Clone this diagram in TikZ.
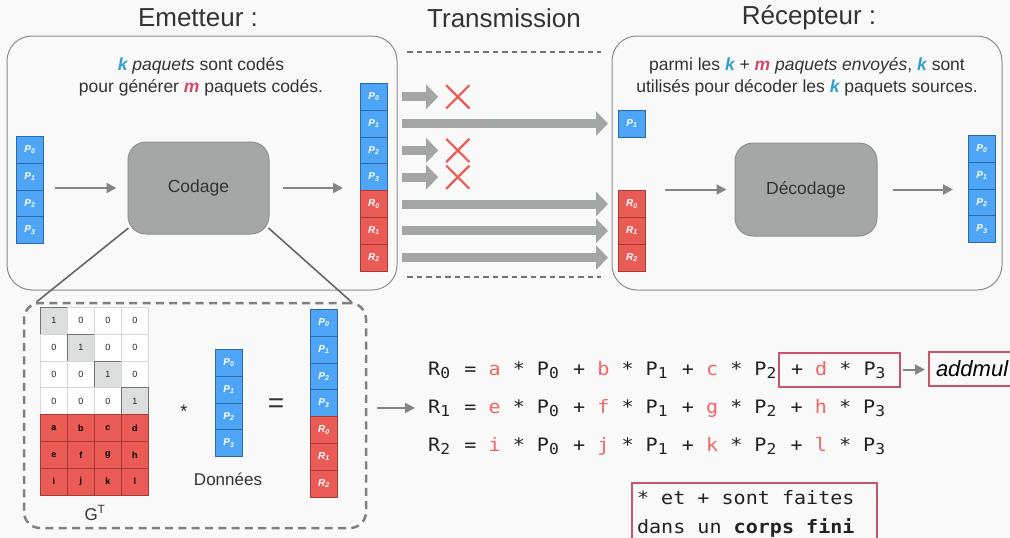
\documentclass[tikz,border=0pt]{standalone}
\usepackage{fontspec}
\setmainfont{Liberation Sans}
\newfontfamily\eqfont[FakeStretch=1.085]{DejaVu Sans Mono}
\usetikzlibrary{arrows.meta,shapes.misc,calc}

\definecolor{bg}{HTML}{F9F9F9}
\definecolor{frame}{HTML}{8C8C8C}
\definecolor{pblue}{HTML}{4EA5F5}
\definecolor{pblueedge}{HTML}{2C6AAE}
\definecolor{rred}{HTML}{EA5B56}
\definecolor{rrededge}{HTML}{A63B38}
\definecolor{boxgray}{HTML}{A5A7A7}
\definecolor{boxgrayedge}{HTML}{8E9090}
\definecolor{pipe}{HTML}{A4A6A6}
\definecolor{lossred}{HTML}{EE5A55}
\definecolor{kblue}{HTML}{2C9FD4}
\definecolor{mred}{HTML}{D24B68}
\definecolor{coef}{HTML}{F06664}
\definecolor{hilite}{HTML}{C9546C}
\definecolor{ink}{HTML}{222222}
\definecolor{soft}{HTML}{333333}
\definecolor{diag}{HTML}{DCDDDD}
\definecolor{gridline}{HTML}{D6D6D6}
\definecolor{linkgray}{HTML}{858585}

\newcommand\kk{\textcolor{kblue}{\bfseries\itshape k}}
\newcommand\mm{\textcolor{mred}{\bfseries\itshape m}}
\newcommand\co[1]{\textcolor{coef}{#1}}
% monospaced subscript digit occupying one character cell
\newcommand\idx[1]{\makebox[12.08pt][l]{\raisebox{-3pt}{\fontsize{15}{15}\selectfont#1}}}

% a column of packets: name, left x, top y, list of style/letter/index
\newcommand\pktstack[4]{%
  \foreach \kind/\lt/\ix [count=\n from 0] in {#4}{
    \node[\kind] (#1-\n) at ({#2},{#3+26.8*\n}) {\lt\textsubscript{\ix}};
  }}

\tikzset{
  pcell/.style={draw=pblueedge, fill=pblue, line width=0.8pt,
    minimum width=27pt, minimum height=26.8pt, inner sep=0pt, text=white,
    font=\fontsize{10}{10}\selectfont\bfseries\itshape, anchor=north west},
  rcell/.style={pcell, draw=rrededge, fill=rred},
  mcell/.style={draw=gridline, fill=white, line width=0.8pt,
    minimum width=27pt, minimum height=26.8pt, inner sep=0pt, text=ink,
    font=\fontsize{9}{9}\selectfont, anchor=north west},
  diagcell/.style={mcell, fill=diag, draw=black!55},
  coefcell/.style={mcell, fill=rred, draw=rrededge, text=black,
    font=\fontsize{9}{9}\selectfont\bfseries},
  panel/.style={draw=frame, line width=1pt, fill=bg, rounded corners=25pt,
    inner sep=0pt},
  procbox/.style={draw=boxgrayedge, fill=boxgray, line width=1pt,
    rounded corners=18pt, inner sep=0pt, text=soft,
    font=\fontsize{17.5}{17.5}\selectfont},
  heading/.style={text=soft, font=\fontsize{26}{26}\selectfont},
  para/.style={text=soft, align=center,
    font=\fontsize{17.5}{22}\selectfont},
  link/.style={draw=linkgray, line width=2pt,
    -{Triangle[length=10pt,width=10pt]}},
  pipearrow/.style={draw=pipe, line width=9pt,
    -{Triangle[length=12pt,width=24pt]}, shorten <=14pt},
  lost/.style={cross out, draw=lossred, line width=2.2pt,
    minimum size=21pt, inner sep=0pt},
  channel/.style={draw=black!55, line width=2pt, dash pattern=on 5.5pt off 4pt},
  zoomline/.style={draw=black!60, line width=1.6pt},
  gframe/.style={draw=black!50, line width=2.5pt, dash pattern=on 8pt off 5.3pt,
    rounded corners=16pt, inner sep=0pt},
  eqn/.style={anchor=base west, inner sep=0pt, text=ink,
    font=\eqfont\fontsize{18.5}{18.5}\selectfont},
  hl/.style={draw=hilite, line width=2pt},
}

\begin{document}
\begin{tikzpicture}[x=1pt, y=-1pt]
\fill[bg] (0,0) rectangle (1010,538);
\useasboundingbox (0,0) rectangle (1010,538);

% headings
\node[heading] (hE) at (198,18) {Emetteur :};
\node[heading] (hT) at (504,18) {Transmission};
\node[heading] (hR) at (809,18) {Récepteur :};

% ---------------- sender ----------------
\node[panel, minimum width=390pt, minimum height=254pt] (emet) at (202,163) {};
\node[para] (etxt) at (201,77)
  {\kk{} \textit{paquets} sont codés\\pour générer \mm{} paquets codés.};

% zoom lines from the encoder to the detail frame
\node[gframe, minimum width=342pt, minimum height=225pt] (gbox) at (195,415.5) {};
\draw[zoomline] ($(gbox.north west)+(14,0)$) -- ($(128.5,228)$);
\draw[zoomline] ($(gbox.north east)+(-16,0)$) -- ($(268.5,228)$);

\node[procbox, minimum width=141pt, minimum height=92pt] (codage) at (198.5,188) {Codage};

\pktstack{src}{16}{136}{pcell/P/0,pcell/P/1,pcell/P/2,pcell/P/3}
\pktstack{enc}{360}{83}{pcell/P/0,pcell/P/1,pcell/P/2,pcell/P/3,rcell/R/0,rcell/R/1,rcell/R/2}

\draw[link, shorten <=11pt, shorten >=11pt] (codage.west -| src-1.east) -- (codage.west);
\draw[link, shorten <=13pt, shorten >=17pt] (codage.east) -- (codage.east -| enc-0.west);

% ---------------- channel ----------------
\draw[channel] (407,52) -- (601,52);
\draw[channel] (407,277) -- (601,277);

\node[lost] (x0) at ($(enc-0.east)+(70,0)$) {};
\node[lost] (x2) at ($(enc-2.east)+(70,0)$) {};
\node[lost] (x3) at ($(enc-3.east)+(70,0)$) {};

% ---------------- receiver ----------------
\node[panel, minimum width=390pt, minimum height=254pt] (recp) at (807,163) {};
\node[para] (rtxt) at (807,77)
  {parmi les \kk{} + \mm{} \textit{paquets envoyés}, \kk{} sont\\utilisés pour décoder les \kk{} paquets sources.};

\pktstack{got}{618}{110}{pcell/P/1}
\pktstack{rec}{618}{190.2}{rcell/R/0,rcell/R/1,rcell/R/2}
\pktstack{out}{968}{135}{pcell/P/0,pcell/P/1,pcell/P/2,pcell/P/3}

\node[procbox, minimum width=142pt, minimum height=93pt] (decodage) at (806,189.5) {Décodage};

\draw[link, shorten <=19pt, shorten >=8pt] (decodage.west -| rec-0.east) -- (decodage.west);
\draw[link, shorten <=15pt, shorten >=15pt] (decodage.east) -- (decodage.east -| out-0.west);

% packets through the channel
\draw[pipearrow, shorten >=8pt] (enc-0.east) -- (x0.west);
\draw[pipearrow, shorten >=8pt] (enc-2.east) -- (x2.west);
\draw[pipearrow, shorten >=8pt] (enc-3.east) -- (x3.west);
\draw[pipearrow, shorten >=10pt] (enc-1.east) -- (enc-1.east -| got-0.west);
\draw[pipearrow, shorten >=10pt] (enc-4.east) -- (enc-4.east -| rec-0.west);
\draw[pipearrow, shorten >=10pt] (enc-5.east) -- (enc-5.east -| rec-0.west);
\draw[pipearrow, shorten >=10pt] (enc-6.east) -- (enc-6.east -| rec-0.west);

% ---------------- generator matrix detail ----------------
\foreach \r in {0,...,3}{
  \foreach \c in {0,...,3}{
    \ifnum\r=\c
      \node[diagcell] (g-\r-\c) at ({40+27*\c},{307+26.8*\r}) {1};
    \else
      \node[mcell] (g-\r-\c) at ({40+27*\c},{307+26.8*\r}) {0};
    \fi
  }}
\foreach \lt [count=\n from 0] in {a,b,c,d,e,f,g,h,i,j,k,l}{
  \pgfmathtruncatemacro\r{4+int(\n/4)}
  \pgfmathtruncatemacro\c{mod(\n,4)}
  \node[coefcell] (g-\r-\c) at ({40+27*\c},{307+26.8*\r}) {\lt};
}
\node[text=soft, font=\fontsize{17}{17}\selectfont] (gt) at (95,513) {G\textsuperscript{T}};

\node[text=ink, font=\fontsize{18}{18}\selectfont] (times) at (184,411) {*};
\pktstack{dat}{215}{349}{pcell/P/0,pcell/P/1,pcell/P/2,pcell/P/3}
\node[text=soft, font=\fontsize{17}{17}\selectfont] (donnees) at (228,479) {Données};
\node[text=soft, font=\fontsize{28}{28}\selectfont] (eq) at (276,406) {=};
\pktstack{res}{310}{309}{pcell/P/0,pcell/P/1,pcell/P/2,pcell/P/3,rcell/R/0,rcell/R/1,rcell/R/2}

% ---------------- equations ----------------
\node[eqn] (eq0) at (428,375) {R\idx0 = \co{a} * P\idx0 + \co{b} * P\idx1 + \co{c} * P\idx2};
\node[eqn, hl, inner xsep=12pt, minimum height=34pt] (eq0d) at (778,375) {+ \co{d} * P\idx3};
\node[eqn] (eq1) at (428,413) {R\idx1 = \co{e} * P\idx0 + \co{f} * P\idx1 + \co{g} * P\idx2 + \co{h} * P\idx3};
\node[eqn] (eq2) at (428,451) {R\idx2 = \co{i} * P\idx0 + \co{j} * P\idx1 + \co{k} * P\idx2 + \co{l} * P\idx3};

\draw[link, shorten <=10pt, shorten >=13pt] (eq1.west -| gbox.east) -- (eq1.west);

\node[hl, anchor=west, minimum height=34pt, text width=90pt, align=left,
  inner xsep=7pt, text=black, font=\fontsize{22}{22}\selectfont\itshape]
  (addmul) at (928,369) {addmul};
\draw[link, shorten <=2pt, shorten >=3pt] (eq0d.east) -- (eq0d.east -| addmul.west);

\node[eqn, hl, anchor=north west, align=flush left, text width=235pt,
  inner xsep=5pt, inner ysep=7pt, font=\eqfont\fontsize{18.5}{29}\selectfont]
  (note) at (631,482) {* et + sont faites\\dans un \textbf{corps fini}\rule[-14pt]{0pt}{0pt}};
\end{tikzpicture}
\end{document}
